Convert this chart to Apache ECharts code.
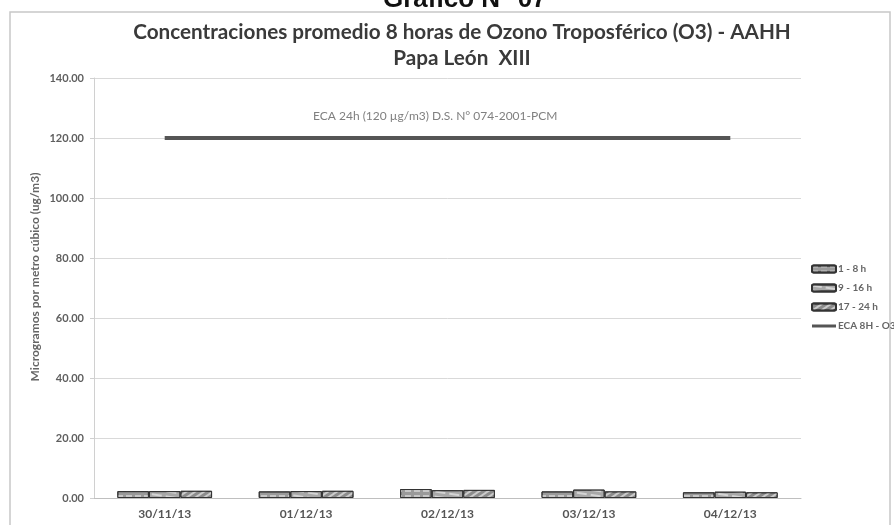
<!DOCTYPE html>
<html><head><meta charset="utf-8">
<script src="https://cdn.jsdelivr.net/npm/echarts@6/dist/echarts.min.js"></script>
<style>html,body{margin:0;padding:0;background:#fff}#c{width:894px;height:525px}</style>
</head><body><div id="c"></div>
<script>
const categories = ['30/11/13','01/12/13','02/12/13','03/12/13','04/12/13'];
const h1_8 = [2.3, 2.2, 3.0, 2.2, 1.9];
const h9_16 = [2.3, 2.3, 2.6, 2.8, 2.1];
const h17_24 = [2.4, 2.4, 2.7, 2.2, 1.9];
const eca8h = [120, 120, 120, 120, 120];
const seriesNames = ['1 - 8 h', '9 - 16 h', '17 - 24 h', 'ECA 8H - O3'];
const yTicks = {min: 0, max: 140, interval: 20};

const chart = echarts.init(document.getElementById('c'));
const font = 'Lato';
const barBase = {type: 'bar', barGap: '0%', barCategoryGap: '33%'};
chart.setOption({
  animation: false,
  backgroundColor: '#fff',
  graphic: [
    {type: 'rect', shape: {x: 10, y: 12, width: 880, height: 520}, style: {fill: 'none', stroke: '#c8c8c8', lineWidth: 1.5}},
    {type: 'text', left: 383, top: -13, style: {text: 'Gráfico N° 07', font: 'bold 26px Liberation Sans', fill: '#111'}},
    {type: 'text', left: 313, top: 110, style: {text: 'ECA 24h (120 µg/m3) D.S. N° 074-2001-PCM', font: '12px Lato', fill: '#808080'}},
    {type: 'text', x: 35, y: 277, rotation: Math.PI / 2,
      style: {text: 'Microgramos por metro cúbico (ug/m3)', font: 'bold 12px Lato', fill: '#666', align: 'center', verticalAlign: 'middle'}}
  ],
  title: {
    text: 'Concentraciones promedio 8 horas de Ozono Troposférico (O3) - AAHH\nPapa León  XIII',
    left: 457, top: 14, textAlign: 'center',
    textStyle: {fontFamily: font, fontSize: 20.7, fontWeight: 'bold', color: '#3a3a3a', lineHeight: 26}
  },
  legend: {
    orient: 'vertical', left: 806, top: 259, itemWidth: 24, itemHeight: 7, itemGap: 9,
    data: seriesNames.map((n, i) => i === 3 ? {name: n, icon: 'path://M0,0 H24 V3 H0 Z'} : {name: n}),
    textStyle: {fontFamily: font, fontSize: 10, fontWeight: 'bold', color: '#666', padding: [0,0,0,-3]}
  },
  grid: {left: 94, right: 93, top: 78, bottom: 27},
  xAxis: {
    type: 'category', data: categories,
    axisLine: {lineStyle: {color: '#bfbfbf'}},
    axisTick: {show: false},
    axisLabel: {fontFamily: font, fontSize: 12, fontWeight: 'bold', color: '#555', margin: 10}
  },
  yAxis: {
    type: 'value', min: yTicks.min, max: yTicks.max, interval: yTicks.interval,
    axisLine: {show: true, lineStyle: {color: '#d0d0d0'}},
    axisTick: {show: true, length: 4, lineStyle: {color: '#d0d0d0'}},
    splitLine: {lineStyle: {color: '#d9d9d9'}},
    axisLabel: {fontFamily: font, fontSize: 11, fontWeight: 'bold', color: '#5f5f5f', margin: 10,
      formatter: v => v.toFixed(2)}
  },
  series: [
    Object.assign({name: seriesNames[0], data: h1_8,
      itemStyle: {color: '#9a9a9a', borderColor: '#333', borderWidth: 1,
        decal: {symbol: 'rect', color: 'rgba(255,255,255,0.45)', dashArrayX: [[6, 3]], dashArrayY: [2, 3], rotation: 0}}}, barBase),
    Object.assign({name: seriesNames[1], data: h9_16,
      itemStyle: {color: '#a8a8a8', borderColor: '#333', borderWidth: 1,
        decal: {symbol: 'rect', color: 'rgba(255,255,255,0.5)', dashArrayX: [[10, 4]], dashArrayY: [2, 3], rotation: 0.15}}}, barBase),
    Object.assign({name: seriesNames[2], data: h17_24,
      itemStyle: {color: '#8c8c8c', borderColor: '#333', borderWidth: 1,
        decal: {symbol: 'rect', color: 'rgba(255,255,255,0.55)', dashArrayX: [[1, 0]], dashArrayY: [2, 3], rotation: -0.6}}}, barBase),
    {name: seriesNames[3], type: 'line', data: eca8h, symbol: 'none',
      lineStyle: {color: '#555', width: 4}, itemStyle: {color: '#555'}}
  ]
});
</script></body></html>
